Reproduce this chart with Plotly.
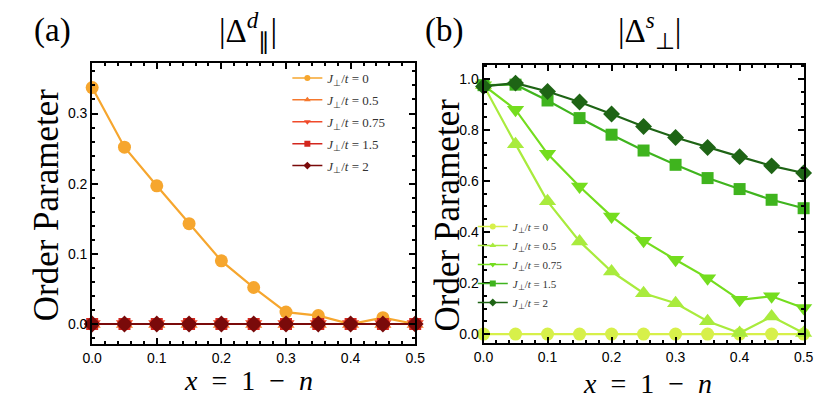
import plotly.graph_objects as go

x = [0.0, 0.05, 0.1, 0.15, 0.2, 0.25, 0.3, 0.35, 0.4, 0.45, 0.5]
labels = ["0", "0.5", "0.75", "1.5", "2"]

# panel (a): |Delta_par^d|
dpar = [
    [0.337, 0.252, 0.197, 0.143, 0.090, 0.052, 0.017, 0.012, 0.0, 0.009, 0.0],
    [0.0] * 11,
    [0.0] * 11,
    [0.0] * 11,
    [0.0] * 11,
]
# panel (b): |Delta_perp^s|
dperp = [
    [0.0] * 11,
    [0.975, 0.744, 0.520, 0.363, 0.245, 0.160, 0.121, 0.050, 0.004, 0.069, 0.004],
    [0.975, 0.879, 0.706, 0.578, 0.461, 0.366, 0.291, 0.219, 0.134, 0.148, 0.102],
    [0.975, 0.977, 0.915, 0.846, 0.781, 0.719, 0.663, 0.611, 0.568, 0.526, 0.493],
    [0.970, 0.983, 0.950, 0.909, 0.862, 0.813, 0.770, 0.731, 0.695, 0.659, 0.631],
]

cols_a = ["#F6A62E", "#F5782D", "#F04A2A", "#D3271E", "#7A0A0A"]
cols_b = ["#D7F04A", "#A9EB3D", "#74DD1E", "#3FB41E", "#1E6415"]
symbols = ["circle", "triangle-up", "triangle-down", "square", "diamond"]
sizes = [13, 15, 15, 12, 13]

SERIF = "Liberation Serif, serif"
TICKF = dict(family="Liberation Sans", size=14, color="black")

fig = go.Figure()

for panel, data, cols, xa, ya, leg in [
    ("a", dpar, cols_a, "x", "y", "legend"),
    ("b", dperp, cols_b, "x2", "y2", "legend2"),
]:
    for i in range(5):
        fig.add_trace(go.Scatter(
            x=x, y=data[i], mode="lines+markers", xaxis=xa, yaxis=ya,
            line=dict(color=cols[i], width=2.2),
            marker=dict(symbol=symbols[i], size=sizes[i], color=cols[i]),
            showlegend=False, cliponaxis=False,
        ))
    # small legend entries
    for i in range(5):
        fig.add_trace(go.Scatter(
            x=[None], y=[None], mode="lines+markers", xaxis=xa, yaxis=ya,
            line=dict(color=cols[i], width=1.5),
            marker=dict(symbol=symbols[i], size=6, color=cols[i]),
            name="<i>J</i><sub>⊥</sub>/<i>t</i> = " + labels[i],
            legend=leg, legendgroup=panel + str(i),
        ))

axis_common = dict(
    showline=True, linecolor="black", linewidth=2, mirror="ticks",
    ticks="inside", ticklen=6, tickwidth=1.5, tickcolor="black",
    showgrid=False, zeroline=False, tickfont=TICKF,
)

fig.update_layout(
    width=831, height=399,
    margin=dict(l=0, r=0, t=0, b=0),
    paper_bgcolor="white", plot_bgcolor="white",
    xaxis=dict(domain=[76 / 831, 407 / 831], range=[0, 0.5], dtick=0.1, tickformat=".1f",
               minor=dict(dtick=0.02, ticks="inside", ticklen=3, tickcolor="black"),
               anchor="y", **axis_common),
    yaxis=dict(domain=[1 - 336 / 399, 1 - 55 / 399], range=[-0.0285, 0.372], dtick=0.1, tickformat=".1f",
               minor=dict(dtick=0.02, ticks="inside", ticklen=3, tickcolor="black"),
               anchor="x", **axis_common),
    xaxis2=dict(domain=[477 / 831, 805 / 831], range=[0, 0.5], dtick=0.1, tickformat=".1f",
                minor=dict(dtick=0.02, ticks="inside", ticklen=3, tickcolor="black"),
                anchor="y2", **axis_common),
    yaxis2=dict(domain=[1 - 335 / 399, 1 - 57 / 399], range=[-0.035, 1.054], dtick=0.2, tickformat=".1f",
                minor=dict(dtick=0.05, ticks="inside", ticklen=3, tickcolor="black"),
                anchor="x2", **axis_common),
    legend=dict(x=276 / 831, y=1 - 55 / 399, xanchor="left", yanchor="top",
                font=dict(family=SERIF, size=13, color="#333"), bgcolor="rgba(0,0,0,0)",
                tracegroupgap=2, itemwidth=30),
    legend2=dict(x=466 / 831, y=1 - 204 / 399, xanchor="left", yanchor="top",
                 font=dict(family=SERIF, size=11, color="#333"), bgcolor="rgba(0,0,0,0)",
                 tracegroupgap=0, itemwidth=30),
)

ann = [
    dict(text="(a)", x=35, y=22, size=33),
    dict(text="|Δ<sup><i>d</i></sup><sub>∥</sub>|", x=236, y=22, size=33),
    dict(text="(b)", x=437, y=22, size=33),
    dict(text="|Δ<sup><i>s</i></sup><sub>⊥</sub>|", x=647, y=22, size=33),
    dict(text="<i>x</i>\u2002=\u20021\u2002−\u2002<i>n</i>", x=236, y=372, size=28),
    dict(text="<i>x</i>\u2002=\u20021\u2002−\u2002<i>n</i>", x=645, y=375, size=28),
]
for a in ann:
    fig.add_annotation(text=a["text"], x=a["x"] / 831, y=1 - a["y"] / 399, xref="paper", yref="paper",
                       showarrow=False, font=dict(family=SERIF, size=a["size"], color="black"),
                       xanchor="center", yanchor="middle")
for xc, yc in [(30, 197), (440, 207)]:
    fig.add_annotation(text="Order Parameter", x=xc / 831, y=1 - yc / 399, xref="paper", yref="paper",
                       showarrow=False, textangle=-90, font=dict(family=SERIF, size=35, color="black"),
                       xanchor="center", yanchor="middle")

fig.write_html("out.html")
